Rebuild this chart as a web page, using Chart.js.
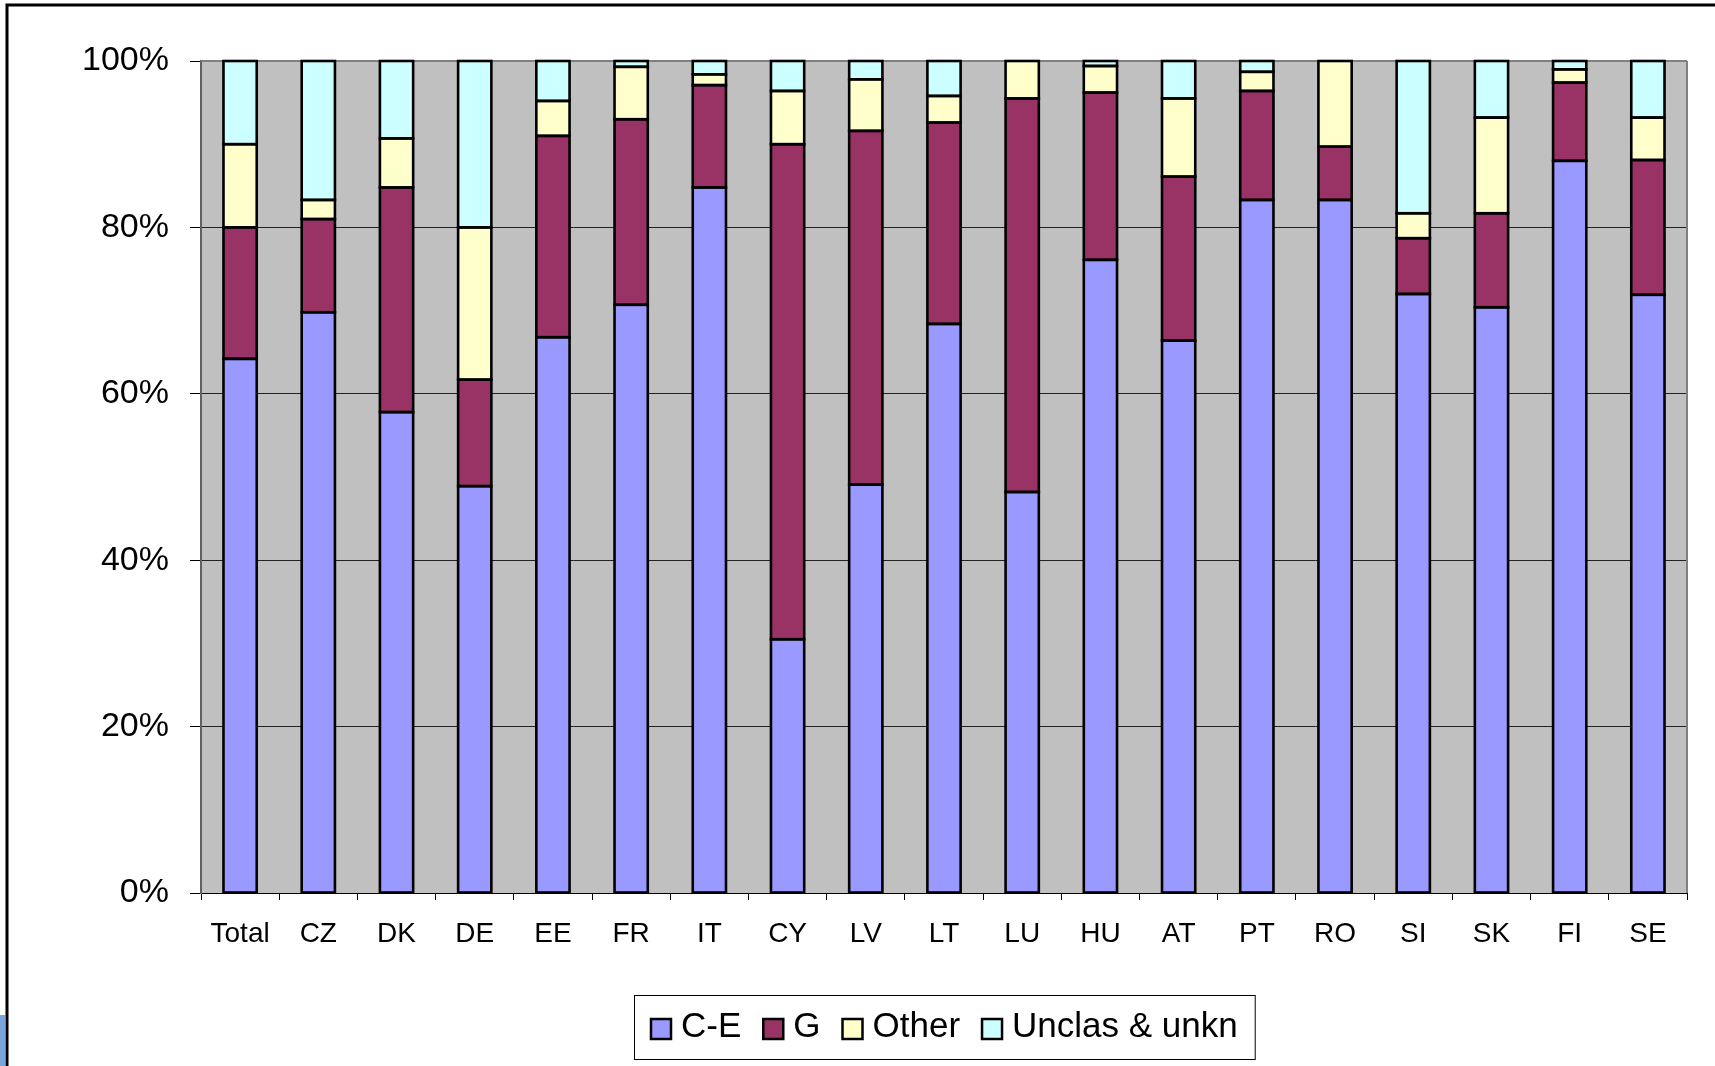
<!DOCTYPE html>
<html>
<head>
<meta charset="utf-8">
<script src="https://cdn.jsdelivr.net/npm/chart.js@4.4.0/dist/chart.umd.min.js"></script>
<style>
  html, body { margin: 0; padding: 0; background: #fff; overflow: hidden; }
  #wrap { position: relative; width: 1715px; height: 1066px; }
</style>
</head>
<body>
<div id="wrap"><canvas id="chart" width="1715" height="1066"></canvas></div>
<script>
// categories (countries) and the four shares, in percent
const categories = ['Total', 'CZ', 'DK', 'DE', 'EE', 'FR', 'IT', 'CY', 'LV', 'LT', 'LU', 'HU', 'AT', 'PT', 'RO', 'SI', 'SK', 'FI', 'SE'];
const ceValues    = [64.2, 69.8, 57.8, 48.9, 66.8, 70.7, 84.8, 30.5, 49.1, 68.4, 48.2, 76.1, 66.4, 83.3, 83.3, 72.0, 70.4, 88.0, 71.9];
const gValues     = [15.8, 11.2, 27.0, 12.8, 24.2, 22.3, 12.3, 59.5, 42.5, 24.2, 47.3, 20.1, 19.7, 13.1, 6.4, 6.7, 11.3, 9.4, 16.2];
const otherValues = [10.0, 2.3, 5.9, 18.3, 4.2, 6.3, 1.3, 6.4, 6.2, 3.2, 4.5, 3.2, 9.4, 2.3, 10.3, 3.0, 11.5, 1.6, 5.1];
const unclValues  = [10.0, 16.7, 9.3, 20.0, 4.8, 0.7, 1.6, 3.6, 2.2, 4.2, 0, 0.6, 4.5, 1.3, 0, 18.3, 6.8, 1.0, 6.8];
const seriesNames = ['C-E', 'G', 'Other', 'Unclas & unkn'];
const yTicks = [0, 20, 40, 60, 80, 100];

const colors = ['#9999ff', '#993366', '#ffffcc', '#ccffff'];
const FONT = '"Liberation Sans", Arial, sans-serif';

// grey plot background, page frame, right border of plot
const framePlugin = {
    id: 'frame',
    beforeDraw(chart) {
        const ctx = chart.ctx;
        const a = chart.chartArea;
        ctx.save();
        ctx.fillStyle = '#fff';
        ctx.fillRect(0, 0, chart.width, chart.height);
        ctx.fillStyle = '#c0c0c0';
        ctx.fillRect(a.left, a.top, a.right - a.left, a.bottom - a.top);
        // outer frame (runs off to the right and bottom)
        ctx.strokeStyle = '#000';
        ctx.lineWidth = 3;
        ctx.beginPath();
        ctx.moveTo(7, chart.height + 5);
        ctx.lineTo(7, 5);
        ctx.lineTo(chart.width + 5, 5);
        ctx.stroke();
        ctx.fillStyle = '#7aa5d8';
        ctx.fillRect(0, 1015, 5, 51);
        ctx.restore();
    },
    beforeDatasetsDraw(chart) {
        const ctx = chart.ctx;
        const a = chart.chartArea;
        ctx.save();
        ctx.strokeStyle = '#808080';
        ctx.lineWidth = 2;
        ctx.beginPath();
        ctx.moveTo(a.right, a.top);
        ctx.lineTo(a.right, a.bottom);
        ctx.moveTo(a.left, a.top);
        ctx.lineTo(a.right, a.top);
        ctx.stroke();
        ctx.restore();
    },
    // black outline round every bar segment, centred on its edges like Excel does
    afterDatasetsDraw(chart) {
        const ctx = chart.ctx;
        ctx.save();
        ctx.strokeStyle = '#000';
        ctx.lineWidth = 2.6;
        chart.data.datasets.forEach((d, i) => {
            chart.getDatasetMeta(i).data.forEach(bar => {
                const p = bar.getProps(['x', 'y', 'base', 'width'], true);
                if (Math.abs(p.base - p.y) < 0.01) return;
                ctx.strokeRect(p.x - p.width / 2, Math.min(p.y, p.base), p.width, Math.abs(p.base - p.y));
            });
        });
        ctx.restore();
    }
};

// boxed legend under the axis
const legendPlugin = {
    id: 'boxLegend',
    afterDraw(chart) {
        const ctx = chart.ctx;
        const a = chart.chartArea;
        ctx.save();
        ctx.font = '35px ' + FONT;
        const sw = 20, gapText = 10, gapItem = 22, pad = 17;
        const widths = chart.data.datasets.map(d => ctx.measureText(d.label).width);
        let total = pad * 2;
        widths.forEach((w, i) => { total += sw + gapText + w + (i < widths.length - 1 ? gapItem : 0); });
        const boxTop = 995, boxH = 64;
        const left = Math.round((a.left + a.right) / 2 - total / 2);
        ctx.strokeStyle = '#000';
        ctx.lineWidth = 1;
        ctx.strokeRect(left + 0.5, boxTop + 0.5, total, boxH);
        let x = left + pad;
        const cy = boxTop + boxH / 2;
        chart.data.datasets.forEach((d, i) => {
            ctx.fillStyle = d.backgroundColor;
            ctx.fillRect(x, cy - sw / 2 + 2, sw, sw);
            ctx.lineWidth = 2.5;
            ctx.strokeStyle = '#000';
            ctx.strokeRect(x, cy - sw / 2 + 2, sw, sw);
            ctx.fillStyle = '#000';
            ctx.textBaseline = 'middle';
            ctx.fillText(d.label, x + sw + gapText, cy);
            x += sw + gapText + widths[i] + gapItem;
        });
        ctx.restore();
    }
};

const valueSets = [ceValues, gValues, otherValues, unclValues];

new Chart(document.getElementById('chart'), {
    type: 'bar',
    data: {
        labels: categories,
        datasets: seriesNames.map((name, i) => ({
            label: name,
            data: valueSets[i],
            backgroundColor: colors[i],
            borderWidth: 0,
            inflateAmount: 0,
            categoryPercentage: 1,
            barPercentage: 0.425
        }))
    },
    options: {
        responsive: false,
        animation: false,
        layout: { padding: { top: 61, right: 28, left: 0, bottom: 0 } },
        plugins: {
            legend: { display: false },
            tooltip: { enabled: false }
        },
        scales: {
            x: {
                stacked: true,
                afterFit(scale) { scale.height = 173; },
                grid: {
                    offset: true,
                    drawOnChartArea: false,
                    tickLength: 7,
                    tickColor: '#000'
                },
                border: { display: true, color: '#000', width: 1 },
                ticks: {
                    color: '#000',
                    padding: 17,
                    maxRotation: 0,
                    autoSkip: false,
                    font: { family: FONT, size: 28 }
                }
            },
            y: {
                stacked: true,
                min: 0,
                max: 100,
                afterFit(scale) { scale.width = 201; },
                afterBuildTicks(scale) { scale.ticks = yTicks.map(v => ({ value: v })); },
                grid: {
                    color: c => (c.tick && c.tick.value === 100) ? '#808080' : '#222',
                    lineWidth: 1,
                    tickLength: 11,
                    tickColor: '#000'
                },
                border: { display: true, color: '#606060', width: 2 },
                ticks: {
                    color: '#000',
                    padding: 21,
                    font: { family: FONT, size: 34 },
                    callback: v => v + '%'
                }
            }
        }
    },
    plugins: [framePlugin, legendPlugin]
});
</script>
</body>
</html>
